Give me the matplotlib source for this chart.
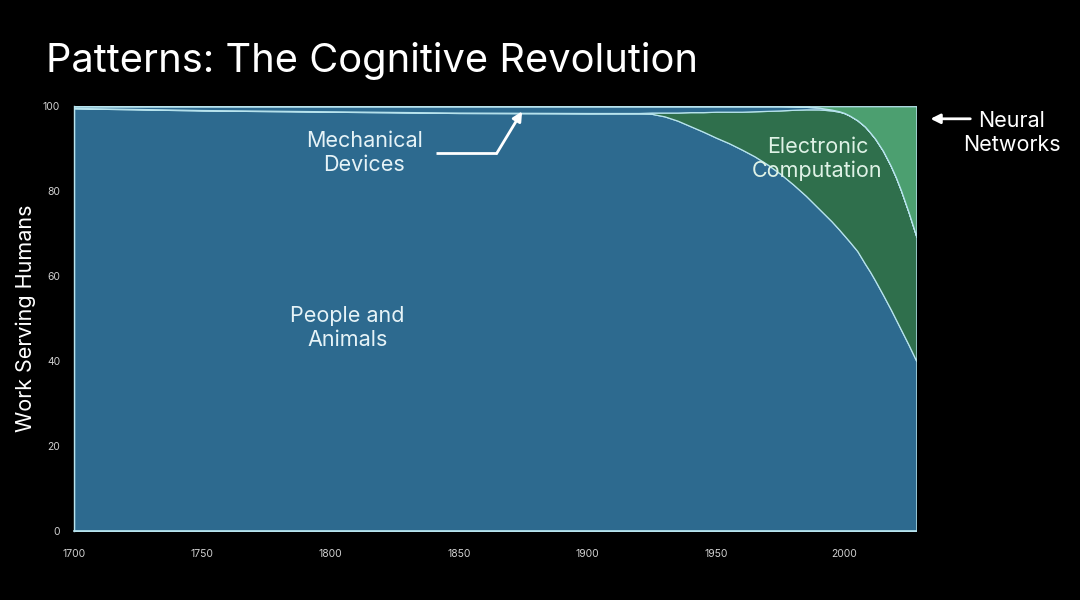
import matplotlib
matplotlib.use("Agg")
import matplotlib.pyplot as plt
import numpy as np

plt.rcParams["font.family"] = ["Inter", "DejaVu Sans"]

# values (percent of work serving humans)
years = [1700, 1750, 1800, 1850, 1900, 1920, 1925, 1930, 1935, 1940, 1945, 1950,
         1955, 1960, 1965, 1970, 1975, 1980, 1985, 1990, 1995, 1998, 2000, 2002,
         2005, 2008, 2010, 2012, 2015, 2018, 2020, 2022, 2025, 2028]
people = [99.5, 99.0, 98.7, 98.4, 98.3, 98.3, 98.2, 97.6, 96.6, 95.3, 94.0, 92.6,
          91.3, 89.8, 88.2, 86.3, 84.1, 81.6, 78.9, 75.9, 72.9, 70.9, 69.5, 68.1,
          65.9, 62.9, 61.0, 58.9, 55.6, 52.2, 49.8, 47.4, 43.8, 40.0]
mechanical = [0.4, 0.9, 1.2, 1.5, 1.6, 1.6, 1.5, 1.5, 1.5, 1.4, 1.4, 1.3,
              1.3, 1.3, 1.2, 1.1, 1.0, 0.8, 0.6, 0.4, 0.2, 0.1, 0.05, 0.0,
              0.0, 0.0, 0.0, 0.0, 0.0, 0.0, 0.0, 0.0, 0.0, 0.0]
neural = [0, 0, 0, 0, 0, 0, 0, 0, 0, 0, 0, 0,
          0, 0, 0, 0, 0, 0.05, 0.15, 0.35, 0.8, 1.2, 1.6, 2.2,
          3.3, 4.8, 6.2, 7.7, 10.5, 14.0, 16.7, 19.8, 25.0, 30.7]
electronic = [max(100 - p - m - n, 0) for p, m, n in zip(people, mechanical, neural)]

xticks = [1700, 1750, 1800, 1850, 1900, 1950, 2000]
yticks = [0, 20, 40, 60, 80, 100]

blue = "#2d6a8f"
dark_green = "#2f6f4c"
light_green = "#4c9f70"
edge = "#b8e4ee"
bg = "black"

fig = plt.figure(figsize=(10.8, 6), dpi=100, facecolor=bg)
ax = fig.add_axes([0.0685, 0.115, 0.78, 0.708], facecolor=bg)

ax.stackplot(years, people, electronic, mechanical, neural,
             colors=[blue, dark_green, blue, light_green],
             edgecolor=edge, linewidth=0.9)

ax.set_xlim(1700, 2028)
ax.set_ylim(0, 100)
ax.set_xticks(xticks)
ax.set_yticks(yticks)
ax.tick_params(axis="x", colors="#d0d0d0", labelsize=7.5, length=0, pad=13)
ax.tick_params(axis="y", colors="#d0d0d0", labelsize=7.5, length=0, pad=10)
for s in ["top", "right", "left", "bottom"]:
    ax.spines[s].set_visible(False)
ax.plot([1700, 2028], [0, 0], color=edge, lw=1.2, clip_on=False)
ax.plot([1700, 1700], [0, 100], color=edge, lw=1.0, clip_on=False)

ax.set_ylabel("Work Serving Humans", color="white", fontsize=15.5, labelpad=5)

fig.text(0.043, 0.898, "Patterns: The Cognitive Revolution", color="white",
         fontsize=28.7, va="center", ha="left")

txt = "#e6f3f7"
fs = 15.5
ax.text(1806.5, 47.8, "People and\nAnimals", color=txt, fontsize=fs,
        ha="center", va="center", linespacing=1.2)
ax.text(1813, 89.0, "Mechanical\nDevices", color=txt, fontsize=fs,
        ha="center", va="center", linespacing=1.2)
ax.text(1989.5, 87.6, "Electronic\nComputation", color="#dff2e6", fontsize=fs,
        ha="center", va="center", linespacing=1.2)

# arrow to the mechanical band
ax.plot([1841, 1864.6], [88.9, 88.9], color="white", lw=2, solid_capstyle="butt")
ax.annotate("", xy=(1874.5, 98.8), xytext=(1864.6, 88.9),
            arrowprops=dict(arrowstyle="-|>", color="white", lw=2,
                            mutation_scale=14, shrinkA=0, shrinkB=0))

# neural networks label outside the axes
fig.text(0.937, 0.778, "Neural\nNetworks", color="white", fontsize=fs,
         ha="center", va="center", linespacing=1.25)
fig.patches.append(matplotlib.patches.FancyArrowPatch(
    (0.901, 0.802), (0.859, 0.802), transform=fig.transFigure,
    arrowstyle="-|>", color="white", lw=2, mutation_scale=14))

fig.savefig("out.png", dpi=100, facecolor=bg)
